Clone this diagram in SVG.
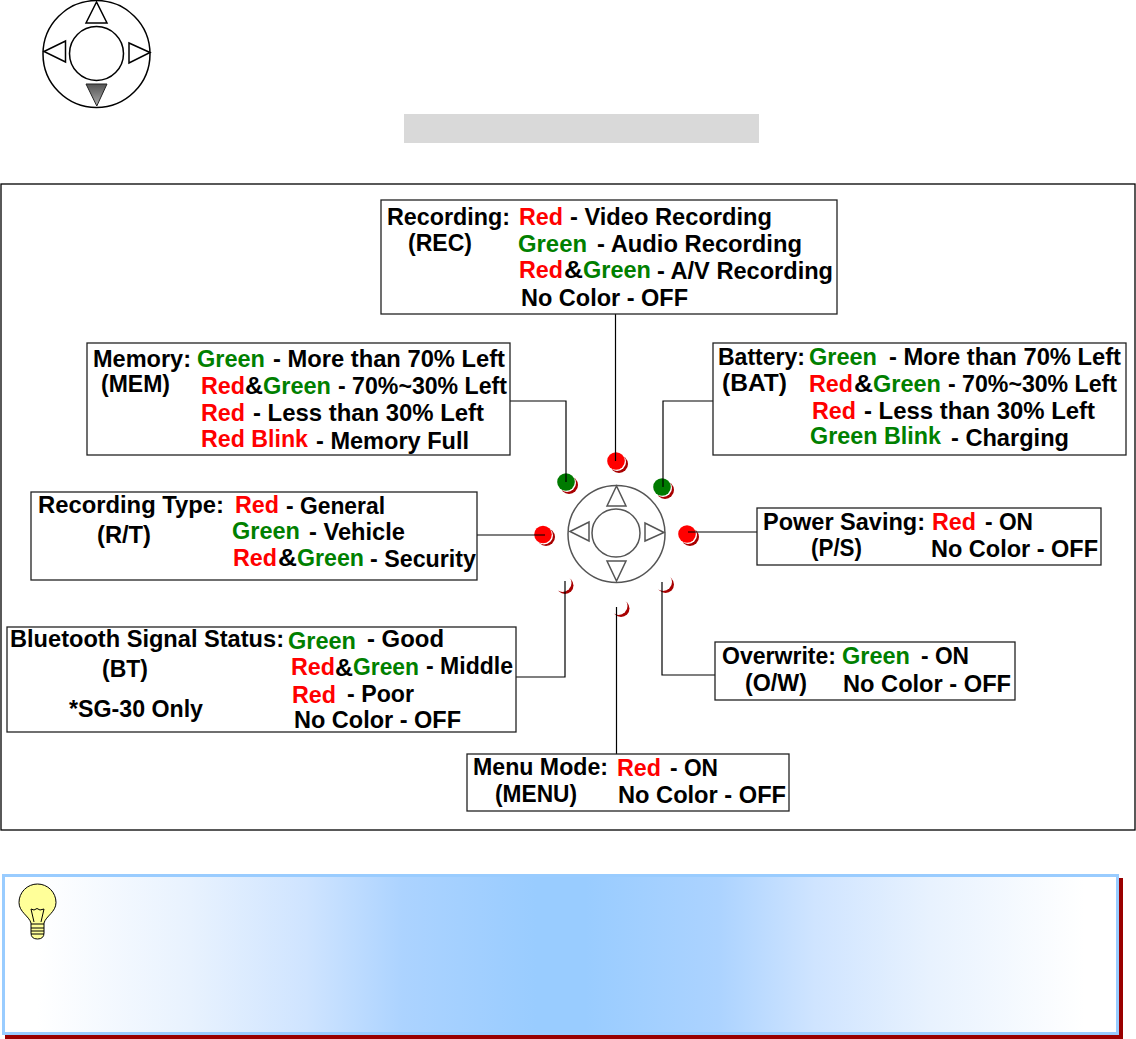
<svg xmlns="http://www.w3.org/2000/svg" width="1136" height="1039" viewBox="0 0 1136 1039">
<style>
text{font-family:"Liberation Sans",Arial,sans-serif;font-size:23px;font-weight:bold;fill:#000}
.r{fill:#ff0000}.g{fill:#008000}
.box{fill:#fff;stroke:#222;stroke-width:1.3}
.pad{fill:#fff;stroke:#000;stroke-width:1.5}
.padc{fill:#fff;stroke:#555;stroke-width:1.5}
.con{fill:none;stroke:#000;stroke-width:1.2}
.sh{fill:#a80000}.wh{fill:#fff}.lr{fill:#ff0000}.lg{fill:#007a00}
</style>
<defs>
<linearGradient id="dn" x1="0" y1="0" x2="0" y2="1"><stop offset="0" stop-color="#555"/><stop offset="1" stop-color="#aaa"/></linearGradient>
<linearGradient id="tip" x1="0" y1="0" x2="1" y2="0">
<stop offset=".03" stop-color="#fff"/><stop offset=".168" stop-color="#e8f2fe"/><stop offset=".272" stop-color="#cfe4ff"/><stop offset=".358" stop-color="#acd3ff"/><stop offset=".478" stop-color="#99ccff"/>
<stop offset=".522" stop-color="#99ccff"/><stop offset=".642" stop-color="#acd3ff"/><stop offset=".728" stop-color="#cfe4ff"/><stop offset=".832" stop-color="#e8f2fe"/><stop offset=".97" stop-color="#fff"/>
</linearGradient>
</defs>
<rect x="0" y="0" width="1136" height="1039" fill="#fff"/>

<g id="joystick-top">
<circle class="pad" cx="96.5" cy="54" r="53.5"/>
<circle class="pad" cx="96.5" cy="53.5" r="27"/>
<polygon class="pad" points="96.5,2 86,23 107,23"/>
<polygon class="pad" points="44,51.500 65.500,41 65.500,62"/>
<polygon class="pad" points="150,52.500 129,43 129,63"/>
<polygon points="86,84 107,84 96.800,106" fill="url(#dn)" stroke="#222" stroke-width="1"/>
</g>
<rect id="grey-bar" x="404" y="114" width="355" height="29" fill="#d9d9d9"/>
<rect id="frame" x="1" y="184" width="1134" height="646" fill="#fff" stroke="#000" stroke-width="1.3"/>

<g id="joystick-center">
<circle class="padc" cx="616.500" cy="534" r="48.500"/>
<circle class="padc" cx="616" cy="533" r="24"/>
<polygon class="padc" points="616.500,486 607,506 626,506"/>
<polygon class="padc" points="570,531.500 589,522 589,541"/>
<polygon class="padc" points="664,532.500 645,523 645,541"/>
<polygon class="padc" points="607,561 626,561 616.500,581"/>
</g>

<g id="led-rec"><circle class="sh" cx="619" cy="464" r="9"/><circle class="wh" cx="617" cy="462" r="9"/><circle class="lr" cx="616" cy="461" r="8.800"/></g>
<g id="led-mem"><circle class="sh" cx="569" cy="485" r="9"/><circle class="wh" cx="567" cy="483" r="9"/><circle class="lg" cx="566" cy="482" r="8.800"/></g>
<g id="led-bat"><circle class="sh" cx="665" cy="490" r="9"/><circle class="wh" cx="663" cy="488" r="9"/><circle class="lg" cx="662" cy="487" r="8.800"/></g>
<g id="led-rt"><circle class="sh" cx="546" cy="537" r="9"/><circle class="wh" cx="544" cy="535.500" r="9"/><circle class="lr" cx="543" cy="534.500" r="8.800"/></g>
<g id="led-ps"><circle class="sh" cx="690" cy="537" r="9"/><circle class="wh" cx="688" cy="535" r="9"/><circle class="lr" cx="687" cy="534" r="8.800"/></g>
<g id="led-bt"><circle class="sh" cx="565" cy="585.500" r="8.500"/><circle class="wh" cx="562.500" cy="583" r="9"/></g>
<g id="led-ow"><circle class="sh" cx="665.500" cy="584.500" r="8.500"/><circle class="wh" cx="663" cy="582" r="9"/></g>
<g id="led-menu"><circle class="sh" cx="621" cy="608.500" r="8.500"/><circle class="wh" cx="618.500" cy="606" r="9"/></g>

<g id="connectors">
<path class="con" d="M615.500 314V461"/>
<path class="con" d="M510 401H566V482"/>
<path class="con" d="M713 401H663V487"/>
<path class="con" d="M477 535H545"/>
<path class="con" d="M757 532H688"/>
<path class="con" d="M516 677H565V581"/>
<path class="con" d="M715 675H662V582"/>
<path class="con" d="M616.500 754V607"/>
</g>

<g id="node-rec">
<rect class="box" x="381" y="200" width="456" height="114"/>
<text x="387" y="225" textLength="123" lengthAdjust="spacingAndGlyphs">Recording:</text>
<text x="408" y="251" textLength="64" lengthAdjust="spacingAndGlyphs">(REC)</text>
<text class="r" x="519" y="225" textLength="44" lengthAdjust="spacingAndGlyphs">Red</text>
<text x="570" y="225" textLength="202" lengthAdjust="spacingAndGlyphs">- Video Recording</text>
<text class="g" x="518" y="252" textLength="69" lengthAdjust="spacingAndGlyphs">Green</text>
<text x="597" y="252" textLength="205" lengthAdjust="spacingAndGlyphs">- Audio Recording</text>
<text class="r" x="519" y="278" textLength="44" lengthAdjust="spacingAndGlyphs">Red</text>
<text x="564" y="278" textLength="19" lengthAdjust="spacingAndGlyphs">&amp;</text>
<text class="g" x="583" y="278" textLength="68" lengthAdjust="spacingAndGlyphs">Green</text>
<text x="657" y="279" textLength="176" lengthAdjust="spacingAndGlyphs">- A/V Recording</text>
<text x="521" y="306" textLength="167" lengthAdjust="spacingAndGlyphs">No Color - OFF</text>
</g>

<g id="node-mem">
<rect class="box" x="87" y="343" width="423" height="112"/>
<text x="93" y="367" textLength="98" lengthAdjust="spacingAndGlyphs">Memory:</text>
<text x="101" y="392" textLength="69" lengthAdjust="spacingAndGlyphs">(MEM)</text>
<text class="g" x="197" y="367" textLength="68" lengthAdjust="spacingAndGlyphs">Green</text>
<text x="273" y="367" textLength="232" lengthAdjust="spacingAndGlyphs">- More than 70% Left</text>
<text class="r" x="201" y="394" textLength="44" lengthAdjust="spacingAndGlyphs">Red</text>
<text x="245" y="394" textLength="18" lengthAdjust="spacingAndGlyphs">&amp;</text>
<text class="g" x="263" y="394" textLength="68" lengthAdjust="spacingAndGlyphs">Green</text>
<text x="338" y="394" textLength="169" lengthAdjust="spacingAndGlyphs">- 70%~30% Left</text>
<text class="r" x="201" y="421" textLength="44" lengthAdjust="spacingAndGlyphs">Red</text>
<text x="253" y="421" textLength="231" lengthAdjust="spacingAndGlyphs">- Less than 30% Left</text>
<text class="r" x="201" y="447" textLength="107" lengthAdjust="spacingAndGlyphs">Red Blink</text>
<text x="316" y="449" textLength="153" lengthAdjust="spacingAndGlyphs">- Memory Full</text>
</g>

<g id="node-bat">
<rect class="box" x="713" y="343" width="413" height="112"/>
<text x="718" y="365" textLength="87" lengthAdjust="spacingAndGlyphs">Battery:</text>
<text x="722" y="391" textLength="65" lengthAdjust="spacingAndGlyphs">(BAT)</text>
<text class="g" x="809" y="365" textLength="68" lengthAdjust="spacingAndGlyphs">Green</text>
<text x="889" y="365" textLength="232" lengthAdjust="spacingAndGlyphs">- More than 70% Left</text>
<text class="r" x="809" y="392" textLength="44" lengthAdjust="spacingAndGlyphs">Red</text>
<text x="854" y="392" textLength="19" lengthAdjust="spacingAndGlyphs">&amp;</text>
<text class="g" x="873" y="392" textLength="68" lengthAdjust="spacingAndGlyphs">Green</text>
<text x="948" y="392" textLength="169" lengthAdjust="spacingAndGlyphs">- 70%~30% Left</text>
<text class="r" x="812" y="419" textLength="44" lengthAdjust="spacingAndGlyphs">Red</text>
<text x="864" y="419" textLength="231" lengthAdjust="spacingAndGlyphs">- Less than 30% Left</text>
<text class="g" x="810" y="444" textLength="131" lengthAdjust="spacingAndGlyphs">Green Blink</text>
<text x="951" y="446" textLength="118" lengthAdjust="spacingAndGlyphs">- Charging</text>
</g>

<g id="node-rt">
<rect class="box" x="31" y="492" width="446" height="88"/>
<text x="38" y="513" textLength="186" lengthAdjust="spacingAndGlyphs">Recording Type:</text>
<text x="97" y="543" textLength="54" lengthAdjust="spacingAndGlyphs">(R/T)</text>
<text class="r" x="235" y="513" textLength="44" lengthAdjust="spacingAndGlyphs">Red</text>
<text x="286" y="514" textLength="99" lengthAdjust="spacingAndGlyphs">- General</text>
<text class="g" x="232" y="539" textLength="68" lengthAdjust="spacingAndGlyphs">Green</text>
<text x="309" y="540" textLength="96" lengthAdjust="spacingAndGlyphs">- Vehicle</text>
<text class="r" x="233" y="566" textLength="44" lengthAdjust="spacingAndGlyphs">Red</text>
<text x="278" y="566" textLength="19" lengthAdjust="spacingAndGlyphs">&amp;</text>
<text class="g" x="297" y="566" textLength="67" lengthAdjust="spacingAndGlyphs">Green</text>
<text x="370" y="567" textLength="106" lengthAdjust="spacingAndGlyphs">- Security</text>
</g>

<g id="node-ps">
<rect class="box" x="757" y="508" width="344" height="57"/>
<text x="763" y="530" textLength="162" lengthAdjust="spacingAndGlyphs">Power Saving:</text>
<text x="811" y="556" textLength="51" lengthAdjust="spacingAndGlyphs">(P/S)</text>
<text class="r" x="932" y="530" textLength="44" lengthAdjust="spacingAndGlyphs">Red</text>
<text x="985" y="530" textLength="48" lengthAdjust="spacingAndGlyphs">- ON</text>
<text x="931" y="557" textLength="167" lengthAdjust="spacingAndGlyphs">No Color - OFF</text>
</g>

<g id="node-bt">
<rect class="box" x="7" y="627" width="509" height="105"/>
<text x="10" y="647" textLength="274" lengthAdjust="spacingAndGlyphs">Bluetooth Signal Status:</text>
<text x="102" y="677" textLength="46" lengthAdjust="spacingAndGlyphs">(BT)</text>
<text x="69" y="717" textLength="134" lengthAdjust="spacingAndGlyphs">*SG-30 Only</text>
<text class="g" x="288" y="649" textLength="68" lengthAdjust="spacingAndGlyphs">Green</text>
<text x="367" y="647" textLength="77" lengthAdjust="spacingAndGlyphs">- Good</text>
<text class="r" x="291" y="675" textLength="44" lengthAdjust="spacingAndGlyphs">Red</text>
<text x="335" y="676" textLength="18" lengthAdjust="spacingAndGlyphs">&amp;</text>
<text class="g" x="353" y="675" textLength="66" lengthAdjust="spacingAndGlyphs">Green</text>
<text x="426" y="674" textLength="87" lengthAdjust="spacingAndGlyphs">- Middle</text>
<text class="r" x="292" y="703" textLength="44" lengthAdjust="spacingAndGlyphs">Red</text>
<text x="347" y="702" textLength="67" lengthAdjust="spacingAndGlyphs">- Poor</text>
<text x="294" y="728" textLength="167" lengthAdjust="spacingAndGlyphs">No Color - OFF</text>
</g>

<g id="node-ow">
<rect class="box" x="715" y="642" width="300" height="58"/>
<text x="722" y="664" textLength="114" lengthAdjust="spacingAndGlyphs">Overwrite:</text>
<text x="745" y="691" textLength="62" lengthAdjust="spacingAndGlyphs">(O/W)</text>
<text class="g" x="842" y="664" textLength="68" lengthAdjust="spacingAndGlyphs">Green</text>
<text x="921" y="664" textLength="48" lengthAdjust="spacingAndGlyphs">- ON</text>
<text x="843" y="692" textLength="168" lengthAdjust="spacingAndGlyphs">No Color - OFF</text>
</g>

<g id="node-menu">
<rect class="box" x="467" y="754" width="322" height="57"/>
<text x="473" y="775" textLength="135" lengthAdjust="spacingAndGlyphs">Menu Mode:</text>
<text x="495" y="802" textLength="82" lengthAdjust="spacingAndGlyphs">(MENU)</text>
<text class="r" x="617" y="776" textLength="44" lengthAdjust="spacingAndGlyphs">Red</text>
<text x="670" y="776" textLength="48" lengthAdjust="spacingAndGlyphs">- ON</text>
<text x="618" y="803" textLength="168" lengthAdjust="spacingAndGlyphs">No Color - OFF</text>
</g>

<g id="tip-box">
<path d="M5 878H1123V1039H5Z" fill="#990000"/>
<rect x="3.500" y="875.500" width="1114" height="158" fill="url(#tip)" stroke="#99ccff" stroke-width="3"/>
<g id="bulb" stroke="#000" stroke-width="1">
<path d="M31 923C29 916 19 912 19 902.500A18.500 18.500 0 0 1 56 902.500C56 912 46 916 44 923V933Q44 939 37.500 939Q31 939 31 933Z" fill="#ffff99"/>
<path d="M31 924H44M31 928H44M31 931H44M31 934H44" fill="none"/>
<path d="M34 922L31 909L34 910L37 908.500L40 910L44 909L41 922" fill="none"/>
</g>
</g>
</svg>
